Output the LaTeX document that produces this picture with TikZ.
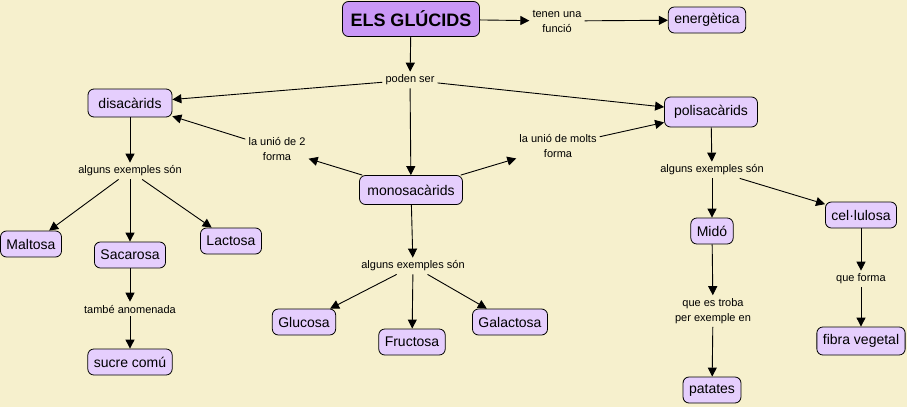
\documentclass[tikz,border=0pt]{standalone}
\usepackage{fontspec}
\setmainfont{Liberation Sans}
\usepackage{tikz}
\usetikzlibrary{arrows.meta}

\definecolor{bgcream}{RGB}{246,240,205}
\definecolor{conceptfill}{RGB}{229,206,253}
\definecolor{mainfill}{RGB}{202,152,246}

\begin{document}
\begin{tikzpicture}[x=1pt,y=-1pt,
  concept/.style={draw,line width=0.8pt,rounded corners=6pt,fill=conceptfill,
    font=\fontsize{14}{16}\selectfont,minimum height=26pt,inner xsep=6pt},
  mainconcept/.style={concept,fill=mainfill,font=\fontsize{18}{20}\selectfont\bfseries,
    minimum height=35pt,inner xsep=8pt},
  linkphrase/.style={font=\fontsize{11}{15}\selectfont,align=center,inner sep=3pt},
  conn/.style={-{Triangle[length=9pt,width=9pt]},line width=0.9pt}]

  \fill[bgcream] (0,0) rectangle (907,407);

  % concepts
  \node[mainconcept] (glucids) at (411,19) {ELS GLÚCIDS};
  \node[concept] (energetica) at (707,20) {energètica};
  \node[concept,minimum width=84pt,minimum height=28pt] (disac) at (130,103) {disacàrids};
  \node[concept,minimum width=93pt,minimum height=30pt] (polisac) at (711,112) {polisacàrids};
  \node[concept,minimum width=103pt,minimum height=29pt] (monosac) at (411,190) {monosacàrids};
  \node[concept] (maltosa) at (31,244) {Maltosa};
  \node[concept] (sacarosa) at (130,255) {Sacarosa};
  \node[concept] (lactosa) at (231,241) {Lactosa};
  \node[concept] (sucre) at (130,362) {sucre comú};
  \node[concept] (glucosa) at (304,322) {Glucosa};
  \node[concept] (fructosa) at (412,342) {Fructosa};
  \node[concept] (galactosa) at (510,322) {Galactosa};
  \node[concept] (mido) at (712,231) {Midó};
  \node[concept] (cellulosa) at (861,215) {cel·lulosa};
  \node[concept] (patates) at (712,390) {patates};
  \node[concept,minimum height=28pt] (fibra) at (861,341) {fibra vegetal};

  % linking phrases
  \node[linkphrase] (funcio) at (557,21) {tenen una\\funció};
  \node[linkphrase] (poden) at (410,80) {poden ser};
  \node[linkphrase] (unio2) at (277,149) {la unió de 2\\forma};
  \node[linkphrase] (uniomolts) at (558,146) {la unió de molts\\forma};
  \node[linkphrase] (exdisac) at (130,171) {alguns exemples són};
  \node[linkphrase] (exmono) at (413,266) {alguns exemples són};
  \node[linkphrase] (expoli) at (712,170) {alguns exemples són};
  \node[linkphrase] (tambe) at (130,309) {també anomenada};
  \node[linkphrase] (troba) at (713,311) {que es troba\\per exemple en};
  \node[linkphrase] (queforma) at (861,279) {que forma};

  \draw[conn] (glucids) -- (funcio);
  \draw[conn] (funcio) -- (energetica);
  \draw[conn] (glucids) -- (poden);
  \draw[conn] (poden) -- (disac);
  \draw[conn] (poden) -- (polisac);
  \draw[conn] (poden) -- (monosac);
  \draw[conn] (monosac) -- (unio2);
  \draw[conn] (unio2) -- (disac);
  \draw[conn] (monosac) -- (uniomolts);
  \draw[conn] (uniomolts) -- (polisac);

  \draw[conn] (disac) -- (exdisac);
  \draw[conn] (exdisac) -- (maltosa);
  \draw[conn] (exdisac) -- (sacarosa);
  \draw[conn] (exdisac) -- (lactosa);
  \draw[conn] (sacarosa) -- (tambe);
  \draw[conn] (tambe) -- (sucre);

  \draw[conn] (monosac) -- (exmono);
  \draw[conn] (exmono) -- (glucosa);
  \draw[conn] (exmono) -- (fructosa);
  \draw[conn] (exmono) -- (galactosa);

  \draw[conn] (polisac) -- (expoli);
  \draw[conn] (expoli) -- (mido);
  \draw[conn] (expoli) -- (cellulosa);
  \draw[conn] (mido) -- (troba);
  \draw[conn] (troba) -- (patates);
  \draw[conn] (cellulosa) -- (queforma);
  \draw[conn] (queforma) -- (fibra);
\end{tikzpicture}
\end{document}
